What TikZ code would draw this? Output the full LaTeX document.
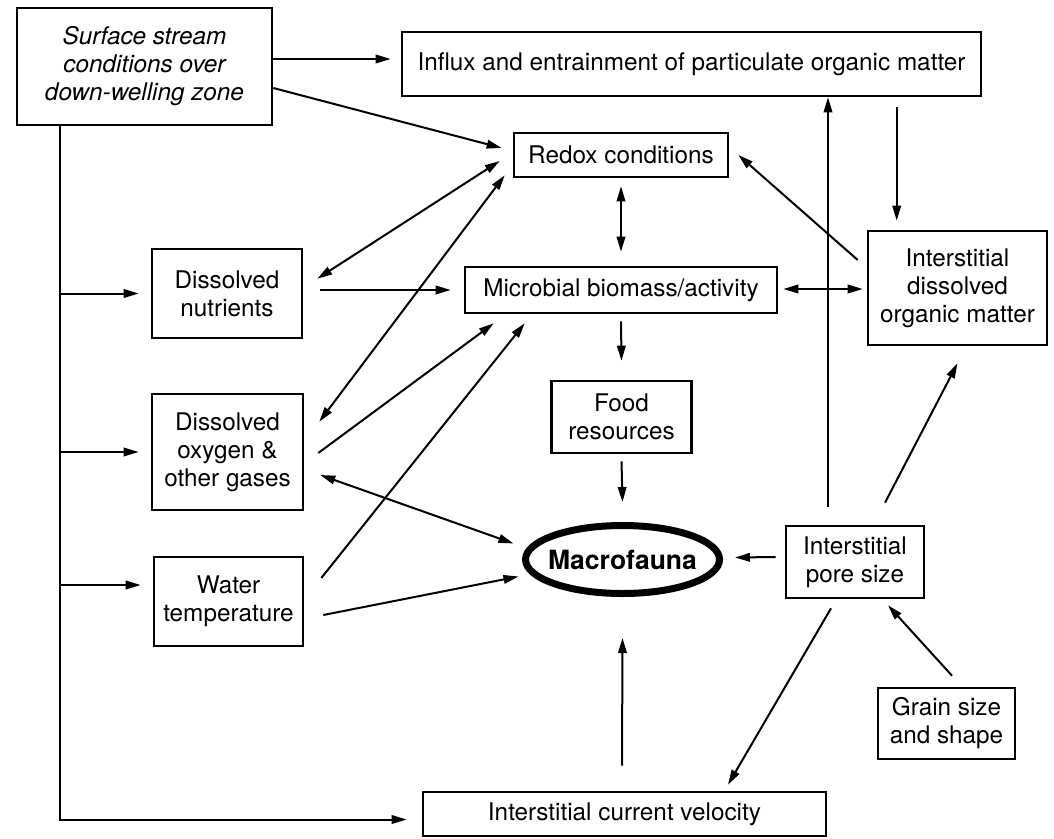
\documentclass[tikz,border=0pt]{standalone}
\usepackage{fontspec}
\setmainfont{TeX Gyre Heros}
\usetikzlibrary{arrows.meta,calc,shapes.geometric}
\tikzset{
  box/.style={draw, line width=2.6pt, inner sep=0pt, align=center, font=\fontsize{24.3}{28}\selectfont},
  arr/.style={line width=2pt, -{Triangle[length=15pt,width=8.5pt]}},
  darr/.style={line width=2pt, {Triangle[length=15pt,width=8.5pt]}-{Triangle[length=15pt,width=8.5pt]}},
}
\begin{document}
\begin{tikzpicture}[x=1pt,y=-1pt]
\fill[white] (0,0) rectangle (1054,838);
\useasboundingbox (0,0) rectangle (1054,838);

% nodes
\node[box, minimum width=255pt, minimum height=117pt, font=\itshape\fontsize{24.3}{28}\selectfont] (surf) at (144.5,66.5) {Surface stream\\conditions over\\down-welling zone};
\node[box, minimum width=579pt, minimum height=64pt] (influx) at (691.5,64) {Influx and entrainment of particulate organic matter};
\node[box, minimum width=214pt, minimum height=44pt] (redox) at (621,155) {Redox conditions};
\node[box, minimum width=150pt, minimum height=89pt] (nutr) at (227,293.5) {Dissolved\\nutrients};
\node[box, minimum width=312pt, minimum height=46pt] (micro) at (621,290) {Microbial biomass/activity};
\node[box, minimum width=179pt, minimum height=114pt] (idom) at (957.5,288) {Interstitial\\dissolved\\organic matter};
\node[box, minimum width=151pt, minimum height=116pt] (oxy) at (227.5,452) {Dissolved\\oxygen \&\\other gases};
\node[box, minimum width=140pt, minimum height=72pt] (food) at (621.5,417) {Food\\resources};
\node[ellipse, draw, line width=7pt, minimum width=194pt, minimum height=68pt, inner sep=0pt, font=\bfseries\fontsize{26.5}{30}\selectfont] (macro) at (622.5,559.5) {\makebox[0pt]{Macrofauna}};
\node[box, minimum width=138pt, minimum height=72pt] (pore) at (855,562) {Interstitial\\pore size};
\node[box, minimum width=137pt, minimum height=71pt] (grain) at (946.5,723.5) {Grain size\\and shape};
\node[box, minimum width=403pt, minimum height=44pt] (vel) at (624.5,814) {Interstitial current velocity};
\node[box, minimum width=149pt, minimum height=89pt] (water) at (228.5,601.5) {Water\\temperature};

% connectors
\draw[arr] ($(surf.east)+(0,-7.5)$) -- ($(influx.west)+(-10,-5)$);
\draw[arr] ($(surf.east)+(0,21.5)$) -- ($(redox.west)+(-11,-7)$);

\coordinate (trunk) at ($(surf.south west)+(44,0)$);
\draw[arr] (trunk) |- ($(vel.west)+(-15,5.5)$);
\draw[arr] (trunk |- nutr.west) -- ($(nutr.west)+(-12,0)$);
\draw[arr] (trunk |- oxy.west) -- ($(oxy.west)+(-12,0)$);
\coordinate (wIn) at ($(water.west)+(-12,-16.5)$);
\draw[arr] (trunk |- wIn) -- (wIn);

\draw[darr] ($(redox.south)+(0,8)$) -- ($(micro.north)+(0,-14)$);
\draw[darr] ($(redox.west)+(-13,6)$) -- ($(nutr.north east)+(14,31)$);
\draw[darr] ($(redox.south west)+(-8,-3)$) -- ($(oxy.north east)+(15,29)$);
\draw[arr] ($(nutr.east)+(17,-3.5)$) -- ($(micro.west)+(-13,0)$);
\draw[arr] ($(oxy.east)+(14,1)$) -- ($(micro.south west)+(30,9)$);
\draw[arr] ($(water.east)+(17,-23.5)$) -- ($(micro.south west)+(61,9)$);
\draw[darr] ($(oxy.east)+(16,23)$) -- ($(macro.center)+(-109,-16)$);
\draw[arr] ($(water.east)+(19,13.5)$) -- ($(macro.center)+(-104,17)$);

\draw[arr] ($(micro.south)+(0,7)$) -- ($(food.north)+(0,-19)$);
\draw[arr] ($(food.south)+(0,7)$) -- ($(macro.north)+(0,-20)$);
\draw[darr] ($(micro.east)+(5,-1)$) -- ($(idom.west)+(-4,1)$);

\coordinate (iTop) at ($(idom.north west)+(30,-9)$);
\draw[arr] ($(iTop |- influx.south)+(0,10)$) -- (iTop);
\draw[arr] ($(idom.west)+(-9,-28)$) -- ($(redox.east)+(9,0)$);

\coordinate (pTop) at ($(pore.north)+(-27,-18)$);
\draw[arr] (pTop) -- (pTop |- influx.south);
\draw[arr] ($(pore.north)+(30,-22)$) -- ($(idom.south)+(0,17)$);
\draw[arr] ($(pore.west)+(-9,-5)$) -- ($(macro.east)+(12,-2)$);
\draw[arr] ($(grain.north)+(5.5,-11)$) -- ($(pore.south)+(33,6)$);
\draw[arr] ($(pore.south)+(-24,9)$) -- ($(vel.north)+(103.5,-6)$);
\draw[arr] ($(vel.north)+(-2.5,-25)$) -- ($(macro.south)+(0,41)$);
\end{tikzpicture}
\end{document}
